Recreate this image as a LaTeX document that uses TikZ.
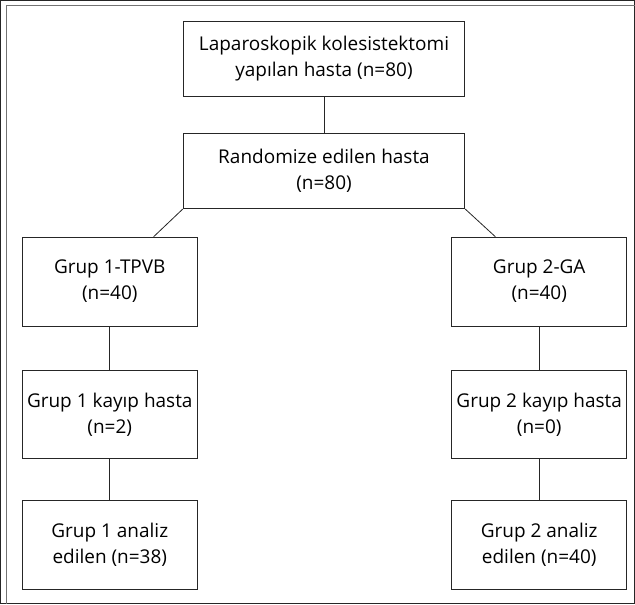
\documentclass[tikz,border=0pt]{standalone}
\usepackage{fontspec}
\setmainfont{Open Sans}
\usetikzlibrary{calc}

\begin{document}
\begin{tikzpicture}[x=1pt,y=-1pt]
  \tikzset{every path/.style={thick, draw=black!85},
    box/.style={draw=black!85, rectangle, align=center, inner sep=0pt,
      font=\fontsize{19}{26}\selectfont},
    wide/.style={box, minimum width=282, minimum height=75},
    small/.style={box, minimum width=175, minimum height=89}}
  \useasboundingbox (0,0) rectangle (635,604);
  \draw[line width=1.2pt, draw=black!55] (6,604) -- (6,5) -- (635,5);
  \node[wide]  (hasta)  at (324, 58.5) {Laparoskopik kolesistektomi\\yapılan hasta (n=80)};
  \node[wide]  (random) at (324,171)   {Randomize edilen hasta\\(n=80)};
  \node[small] (g1)     at (109.5,281.5) {Grup 1-TPVB\\(n=40)};
  \node[small] (g2)     at (539.5,281.5) {Grup 2-GA\\(n=40)};
  \node[small] (kayip1) at (109.5,414.5) {Grup 1 kayıp hasta\\(n=2)};
  \node[small] (kayip2) at (539.5,414.5) {Grup 2 kayıp hasta\\(n=0)};
  \node[small] (analiz1) at (109.5,545.5) {Grup 1 analiz\\edilen (n=38)};
  \node[small] (analiz2) at (539.5,545.5) {Grup 2 analiz\\edilen (n=40)};
  \draw (hasta) -- (random);
  \draw (random.south west) -- ($(g1.north)!0.5!(g1.north east)$);
  \draw (random.south east) -- ($(g2.north)!0.5!(g2.north west)$);
  \draw (g1) -- (kayip1);
  \draw (kayip1) -- (analiz1);
  \draw (g2) -- (kayip2);
  \draw (kayip2) -- (analiz2);
\end{tikzpicture}
\end{document}
